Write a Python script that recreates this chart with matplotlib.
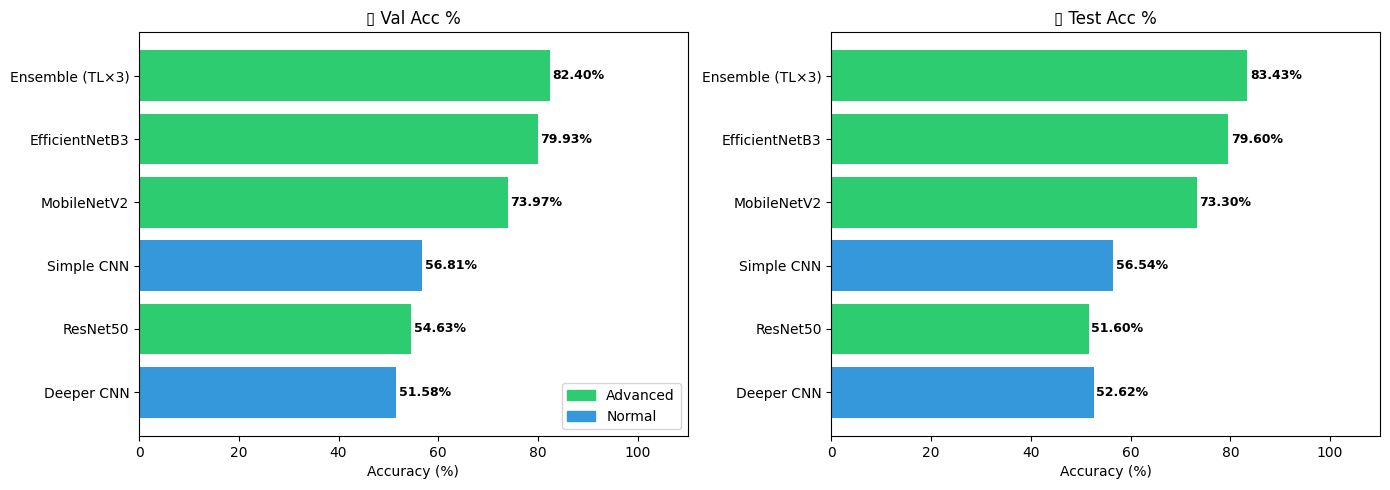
import matplotlib.pyplot as plt
from matplotlib.patches import Patch

models = ['Deeper CNN', 'ResNet50', 'Simple CNN', 'MobileNetV2', 'EfficientNetB3', 'Ensemble (TL×3)']
kind = ['Normal', 'Advanced', 'Normal', 'Advanced', 'Advanced', 'Advanced']
val_acc = [51.58, 54.63, 56.81, 73.97, 79.93, 82.40]
test_acc = [52.62, 51.60, 56.54, 73.30, 79.60, 83.43]

colors = {'Advanced': '#2ecc71', 'Normal': '#3498db'}
bar_colors = [colors[k] for k in kind]

fig, axes = plt.subplots(1, 2, figsize=(13.9, 4.9), dpi=100)

# the original emoji has no glyph in any installed font; it shows as a box
for ax, vals, title in zip(axes, [val_acc, test_acc], ['▯ Val Acc %', '▯ Test Acc %']):
    bars = ax.barh(models, vals, color=bar_colors)
    for b, v in zip(bars, vals):
        ax.text(v + 0.5, b.get_y() + b.get_height() / 2, f'{v:.2f}%',
                va='center', ha='left', fontsize=9, fontweight='bold')
    ax.set_xlim(0, 110)
    ax.set_xlabel('Accuracy (%)')
    ax.set_title(title)

axes[0].legend(handles=[Patch(color=colors['Advanced'], label='Advanced'),
                        Patch(color=colors['Normal'], label='Normal')],
               loc='lower right')

plt.subplots_adjust(left=0.1, right=0.9928, top=0.9347, bottom=0.1102, wspace=0.262)
plt.savefig('out.png')
